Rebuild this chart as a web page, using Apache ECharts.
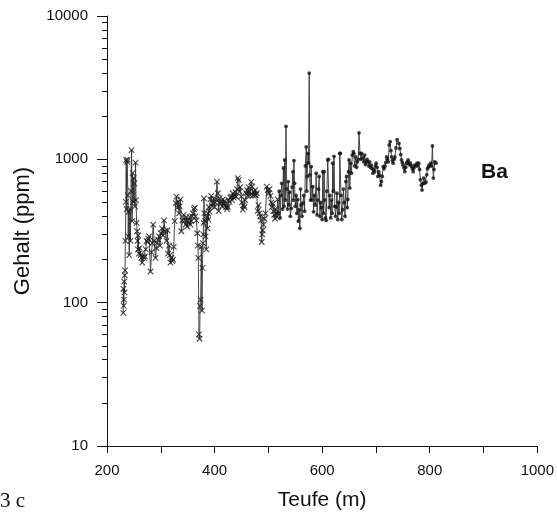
<!DOCTYPE html>
<html>
<head>
<meta charset="utf-8">
<script src="https://cdn.jsdelivr.net/npm/echarts@6/dist/echarts.min.js"></script>
<style>
html,body{margin:0;padding:0;background:#fff;}
#chart{width:557px;height:516px;}
</style>
</head>
<body>
<div id="chart"></div>
<script>
// Series 1 (crosses): depth (m) and Ba content (ppm)
var depthA = [230.2,230.6,231.0,231.5,232.0,232.5,233.0,233.5,234.2,235.2,235.7,236.5,237.3,238.3,239.0,239.4,240.3,241.3,242.6,243.5,244.5,245.7,246.6,247.6,248.7,249.6,250.6,251.9,253.1,254.0,255.0,256.1,256.9,257.5,258.0,259.3,260.8,262.4,263.8,265.4,267.2,268.8,270.4,272.0,273.5,275.5,276.8,278.3,280.9,282.8,284.3,285.7,287.6,290.2,291.8,293.1,295.0,296.9,298.5,300.0,302.4,304.3,306.1,308.0,310.6,312.4,313.5,315.4,316.8,318.0,319.8,321.5,322.8,324.1,325.9,327.8,329.1,330.9,332.8,333.9,335.2,336.5,338.3,340.2,342.6,345.0,346.3,347.6,349.0,350.6,352.2,353.7,355.3,356.9,358.3,359.8,361.5,363.0,364.5,366.1,368.0,369.0,369.8,370.9,372.2,373.1,374.1,375.4,376.5,377.4,378.3,379.0,379.6,380.2,381.1,382.0,383.3,384.6,385.7,386.7,387.6,388.5,389.4,390.6,392.0,393.9,395.3,396.9,398.5,400.0,401.5,403.1,404.3,406.1,407.6,409.3,411.0,412.4,414.0,415.4,417.0,418.5,420.0,421.7,423.2,424.6,426.2,427.8,429.4,430.9,432.4,433.9,435.5,437.0,438.6,440.2,441.7,443.1,445.0,446.3,447.8,449.4,450.9,452.4,453.9,455.6,457.1,458.7,460.2,461.7,463.2,464.8,466.4,468.0,469.8,471.3,472.8,474.1,475.4,476.8,478.3,480.2,481.7,483.3,484.9,486.5,487.6,488.5,489.4,490.9,492.6,494.7,496.9,498.7,500.6,502.1,503.7,505.3,506.9,508.1,509.3,510.8,512.4,513.4,514.3,515.8,517.2];
var baA = [85,125,95,105,140,118,155,168,270,505,990,450,960,990,560,290,430,215,450,270,600,1160,370,800,505,740,680,470,950,520,360,315,270,235,295,220,240,215,205,190,210,205,210,235,270,265,280,290,165,225,260,350,270,205,240,260,275,290,250,305,330,295,375,315,270,320,220,250,215,190,205,195,200,245,370,495,550,460,505,420,470,525,315,375,410,375,350,395,340,370,360,395,350,370,400,420,450,460,400,375,305,250,205,60,56,95,105,245,88,175,260,300,360,535,420,370,290,235,395,330,420,380,465,430,525,555,470,495,530,465,500,525,700,580,435,535,490,505,470,525,490,510,480,465,450,465,520,505,540,550,520,580,540,555,590,550,620,740,715,595,640,550,500,445,480,465,520,580,610,555,640,595,560,695,645,560,595,570,610,560,580,435,480,420,400,375,265,300,320,350,385,420,645,610,580,620,555,500,465,490,435,410,385,450,420,395,525];

// Series 2 (dots)
var depthB = [518.8,520.3,521.8,523.3,524.9,526.4,527.9,529.2,530.3,531.5,532.8,534.2,535.6,537.0,538.3,539.4,540.8,542.6,544.0,545.6,546.6,547.5,548.7,550.0,551.5,553.0,554.4,555.8,557.2,558.6,559.8,561.0,562.5,564.3,565.8,567.3,568.8,570.4,571.3,572.2,573.5,574.6,575.9,577.0,578.3,579.6,581.0,582.6,584.0,585.5,587.0,588.9,590.5,592.0,593.3,594.4,595.8,597.2,598.6,600.0,601.2,602.5,603.7,605.0,606.2,607.4,608.8,610.4,611.7,613.0,614.5,616.0,617.5,618.7,619.6,620.8,622.0,623.5,625.0,626.2,627.5,629.0,630.5,631.8,632.8,633.9,635.0,636.5,638.0,639.5,641.0,642.5,644.0,645.5,646.6,647.6,649.0,650.0,651.5,653.0,654.5,656.0,657.8,659.0,660.6,662.4,664.0,665.4,667.0,668.5,670.4,672.0,673.5,675.9,677.5,679.0,680.5,682.0,683.6,685.2,686.8,688.3,690.0,691.3,692.8,694.4,696.0,697.6,699.0,700.5,702.1,703.7,705.3,706.9,708.7,710.2,711.7,713.5,715.1,716.7,718.3,719.8,721.3,722.8,724.6,726.5,727.8,729.1,730.5,732.0,733.6,735.2,737.3,739.4,742.6,744.4,746.0,747.6,749.1,750.6,752.2,753.7,755.3,756.9,758.4,759.8,761.4,763.0,764.5,766.1,767.6,769.1,770.6,772.2,774.3,776.5,778.0,779.6,781.1,782.6,784.6,785.7,787.3,788.9,790.7,793.1,794.4,795.7,797.2,798.7,800.3,801.9,803.4,805.0,806.7,808.0,809.3,811.7];
var baB = [420,600,390,560,680,450,870,470,990,520,1700,620,450,700,480,590,400,455,640,820,520,980,680,470,560,420,525,370,445,330,620,480,400,495,560,435,900,1220,600,760,1100,940,4000,780,520,890,520,645,430,560,480,800,410,520,620,760,400,500,460,380,820,420,820,520,390,375,600,990,1000,460,560,390,520,420,940,600,1050,470,400,465,580,380,500,420,1100,1100,560,380,445,620,500,400,700,760,460,525,820,990,630,940,800,1070,1130,1100,900,1040,880,960,1000,1530,1100,1000,1100,1020,960,1070,920,960,1000,960,900,960,880,910,860,800,850,820,900,940,880,760,820,775,660,700,760,890,860,895,950,1040,1000,960,1260,1330,1150,1040,980,940,1000,1040,1200,1370,1290,1190,1080,990,950,910,870,820,880,940,960,990,920,950,920,895,860,820,870,910,900,940,900,940,850,720,660,610,680,740,680,695,780,860,880,910,900,940,900,1240,740,850,960,940];

var xTicks = [200,300,400,500,600,700,800,900,1000];
var xLabels = [200,400,600,800,1000];
var yMajor = [10,100,1000,10000];
var yMinor = [20,30,40,50,60,70,80,90,200,300,400,500,600,700,800,900,2000,3000,4000,5000,6000,7000,8000,9000];

function zip(a,b){var r=[];for(var i=0;i<a.length;i++){r.push([a[i],b[i]]);}return r;}
var ptsA = zip(depthA, baA);
var ptsB = zip(depthB, baB);
var allPts = ptsA.concat(ptsB);

var FONT = '"Liberation Sans", Arial, Helvetica, sans-serif';
var chart = echarts.init(document.getElementById('chart'), null, {renderer:'canvas'});
chart.setOption({
  animation: false,
  backgroundColor: '#ffffff',
  grid: {left:107, right:18, top:16, bottom:70, containLabel:false},
  xAxis: {
    type:'value', min:200, max:1000, interval:100,
    name:'Teufe (m)', nameLocation:'middle', nameGap:44,
    nameTextStyle:{fontFamily:FONT, fontSize:21, color:'#111'},
    axisLine:{show:true, onZero:false, lineStyle:{color:'#111', width:1}},
    axisTick:{show:true, inside:false, length:7, lineStyle:{color:'#111'}},
    axisLabel:{margin:17, fontFamily:FONT, fontSize:15, color:'#111',
      formatter:function(v){return xLabels.indexOf(v)>=0 ? String(v) : '';}},
    splitLine:{show:false}
  },
  yAxis: [{
    type:'log', logBase:10, min:10, max:10000,
    name:'Gehalt (ppm)', nameLocation:'middle', nameGap:73, nameRotate:90,
    nameTextStyle:{fontFamily:FONT, fontSize:22, color:'#111'},
    axisLine:{show:true, onZero:false, lineStyle:{color:'#111', width:1}},
    axisTick:{show:true, inside:false, length:10, customValues:yMajor, lineStyle:{color:'#111'}},
    axisLabel:{margin:19, fontFamily:FONT, fontSize:15, color:'#111', customValues:yMajor,
      formatter:function(v){return String(Math.round(v));}},
    splitLine:{show:false}
  },{
    type:'log', logBase:10, min:10, max:10000, position:'left',
    axisLine:{show:false},
    axisTick:{show:true, inside:false, length:5, customValues:yMinor, lineStyle:{color:'#111'}},
    axisLabel:{show:false},
    splitLine:{show:false}
  }],
  series: [{
    type:'line', data: allPts, symbol:'none', z:2,
    lineStyle:{color:'#333', width:0.9}
  },{
    type:'scatter', data: ptsA, z:3,
    symbol:'path://M0 0L10 10M10 0L0 10', symbolSize:5.5,
    itemStyle:{color:'rgba(0,0,0,0)', borderColor:'#1a1a1a', borderWidth:1.1}
  },{
    type:'scatter', data: ptsB, z:3,
    symbol:'circle', symbolSize:3.8,
    itemStyle:{color:'#111'}
  }],
  graphic: [{
    type:'text', left:481, top:162,
    style:{text:'Ba', font:'bold 21px ' + FONT, fill:'#111'}
  },{
    type:'text', left:0, top:491,
    style:{text:'3 c', font:'21px "Liberation Serif", "Times New Roman", serif', fill:'#111'}
  }]
});
</script>
</body>
</html>
